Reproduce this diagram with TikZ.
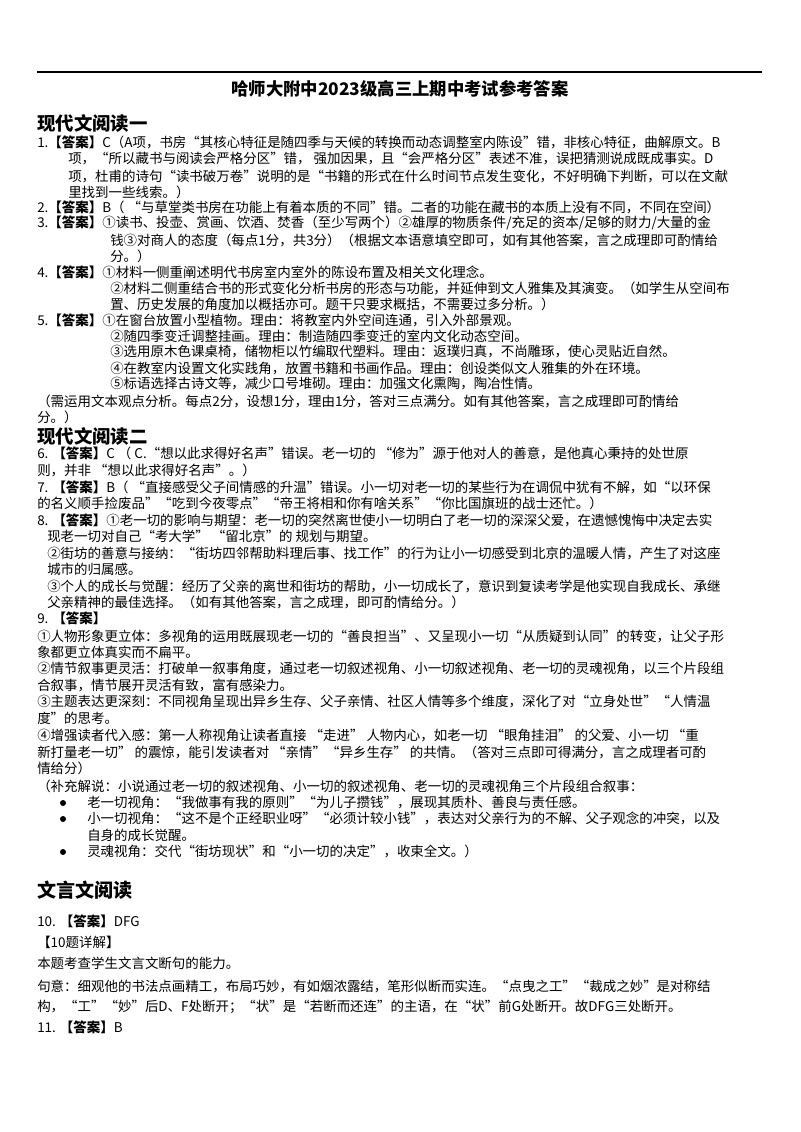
\documentclass[tikz,border=0pt]{standalone}
\usepackage{fontspec}
\setmainfont{Noto Sans CJK SC}
\newcounter{tlc}
\tikzset{txt/.style={anchor=west,inner sep=0pt,font=\fontsize{10.1}{12}\selectfont},
 head/.style={anchor=west,inner sep=0pt,font=\fontsize{13.8}{15}\selectfont\bfseries},
 bul/.style={circle,fill=black,inner sep=0pt,minimum size=4.5pt}}
\newcommand\tl[3]{\stepcounter{tlc}\node[txt] (t\thetlc) at (#1,#2) {#3};}
\newcommand\dA{\textbf{【答案】}}
\begin{document}
\begin{tikzpicture}[x=0.75pt,y=-0.75pt]
\useasboundingbox[fill=white] (0,0) rectangle (800,1132);
\coordinate (ra) at (37,72); \coordinate (rb) at (762,72);
\draw[line width=0.8pt] (ra) -- (rb);
\node[anchor=center,inner sep=0pt,font=\fontsize{13}{14}\selectfont\bfseries] (title) at (400,89) {哈师大附中2023级高三上期中考试参考答案};
\node[head] (h1) at (37,123) {现代文阅读一};
\tl{37}{142}{1.\dA C（A项，书房“其核心特征是随四季与天候的转换而动态调整室内陈设”错，非核心特征，曲解原文。B}
\tl{68}{159}{项，“所以藏书与阅读会严格分区”错， 强加因果，且“会严格分区”表述不准，误把猜测说成既成事实。D}
\tl{68}{176}{项，杜甫的诗句“读书破万卷”说明的是“书籍的形式在什么时间节点发生变化，不好明确下判断，可以在文献}
\tl{68}{192}{里找到一些线索。）}
\tl{37}{207}{2.\dA B（ “与草堂类书房在功能上有着本质的不同”错。二者的功能在藏书的本质上没有不同，不同在空间）}
\tl{37}{223}{3.\dA ①读书、投壶、赏画、饮酒、焚香（至少写两个）②雄厚的物质条件/充足的资本/足够的财力/大量的金}
\tl{110}{240}{钱③对商人的态度（每点1分，共3分）（根据文本语意填空即可，如有其他答案，言之成理即可酌情给}
\tl{110}{256}{分。）}
\tl{37}{272}{4.\dA ①材料一侧重阐述明代书房室内室外的陈设布置及相关文化理念。}
\tl{110}{288}{②材料二侧重结合书的形式变化分析书房的形态与功能，并延伸到文人雅集及其演变。（如学生从空间布}
\tl{110}{304}{置、历史发展的角度加以概括亦可。题干只要求概括，不需要过多分析。）}
\tl{37}{320}{5.\dA ①在窗台放置小型植物。理由：将教室内外空间连通，引入外部景观。}
\tl{110}{336}{②随四季变迁调整挂画。理由：制造随四季变迁的室内文化动态空间。}
\tl{110}{352}{③选用原木色课桌椅，储物柜以竹编取代塑料。理由：返璞归真，不尚雕琢，使心灵贴近自然。}
\tl{110}{368}{④在教室内设置文化实践角，放置书籍和书画作品。理由：创设类似文人雅集的外在环境。}
\tl{110}{384}{⑤标语选择古诗文等，减少口号堆砌。理由：加强文化熏陶，陶冶性情。}
\tl{37}{401}{（需运用文本观点分析。每点2分，设想1分，理由1分，答对三点满分。如有其他答案，言之成理即可酌情给}
\tl{37}{417}{分。）}
\node[head] (h2) at (37,436) {现代文阅读二};
\tl{37}{453}{6. \dA C （ C.“想以此求得好名声”错误。老一切的 “修为”源于他对人的善意，是他真心秉持的处世原}
\tl{37}{470}{则，并非 “想以此求得好名声”。）}
\tl{37}{487}{7. \dA B（ “直接感受父子间情感的升温”错误。小一切对老一切的某些行为在调侃中犹有不解，如“以环保}
\tl{37}{503}{的名义顺手捡废品”“吃到今夜零点”“帝王将相和你有啥关系”“你比国旗班的战士还忙。）}
\tl{37}{520}{8. \dA ①老一切的影响与期望：老一切的突然离世使小一切明白了老一切的深深父爱，在遗憾愧悔中决定去实}
\tl{47}{536}{现老一切对自己“考大学” “留北京”的 规划与期望。}
\tl{47}{553}{②街坊的善意与接纳：“街坊四邻帮助料理后事、找工作”的行为让小一切感受到北京的温暖人情，产生了对这座}
\tl{47}{569}{城市的归属感。}
\tl{47}{586}{③个人的成长与觉醒：经历了父亲的离世和街坊的帮助，小一切成长了，意识到复读考学是他实现自我成长、承继}
\tl{47}{602}{父亲精神的最佳选择。（如有其他答案，言之成理，即可酌情给分。）}
\tl{37}{618}{9. \dA}
\tl{37}{636}{①人物形象更立体：多视角的运用既展现老一切的“善良担当”、又呈现小一切“从质疑到认同”的转变，让父子形}
\tl{37}{652}{象都更立体真实而不扁平。}
\tl{37}{669}{②情节叙事更灵活：打破单一叙事角度，通过老一切叙述视角、小一切叙述视角、老一切的灵魂视角，以三个片段组}
\tl{37}{685}{合叙事，情节展开灵活有致，富有感染力。}
\tl{37}{702}{③主题表达更深刻：不同视角呈现出异乡生存、父子亲情、社区人情等多个维度，深化了对“立身处世”“人情温}
\tl{37}{718}{度”的思考。}
\tl{37}{736}{④增强读者代入感：第一人称视角让读者直接 “走进” 人物内心，如老一切 “眼角挂泪” 的父爱、小一切 “重}
\tl{37}{752}{新打量老一切” 的震惊，能引发读者对 “亲情”“异乡生存” 的共情。（答对三点即可得满分，言之成理者可酌}
\tl{37}{768}{情给分）}
\tl{37}{786}{（补充解说：小说通过老一切的叙述视角、小一切的叙述视角、老一切的灵魂视角三个片段组合叙事：}
\node[bul] (b1) at (63,803) {};
\tl{87}{802}{老一切视角：“我做事有我的原则”“为儿子攒钱”，展现其质朴、善良与责任感。}
\node[bul] (b2) at (63,819) {};
\tl{87}{818}{小一切视角：“这不是个正经职业呀”“必须计较小钱”，表达对父亲行为的不解、父子观念的冲突，以及}
\tl{87}{835}{自身的成长觉醒。}
\node[bul] (b3) at (63,852) {};
\tl{87}{851}{灵魂视角：交代“街坊现状”和“小一切的决定”，收束全文。）}
\node[head,font=\fontsize{14.3}{16}\selectfont\bfseries] (h3) at (37,890) {文言文阅读};
\tl{37}{921}{10. \dA DFG}
\tl{37}{942}{【10题详解】}
\tl{37}{963}{本题考查学生文言文断句的能力。}
\tl{37}{986}{句意：细观他的书法点画精工，布局巧妙，有如烟浓露结，笔形似断而实连。“点曳之工”“裁成之妙”是对称结}
\tl{37}{1007}{构，“工”“妙”后D、F处断开；“状”是“若断而还连”的主语，在“状”前G处断开。故DFG三处断开。}
\tl{37}{1027}{11. \dA B}
\end{tikzpicture}
\end{document}
